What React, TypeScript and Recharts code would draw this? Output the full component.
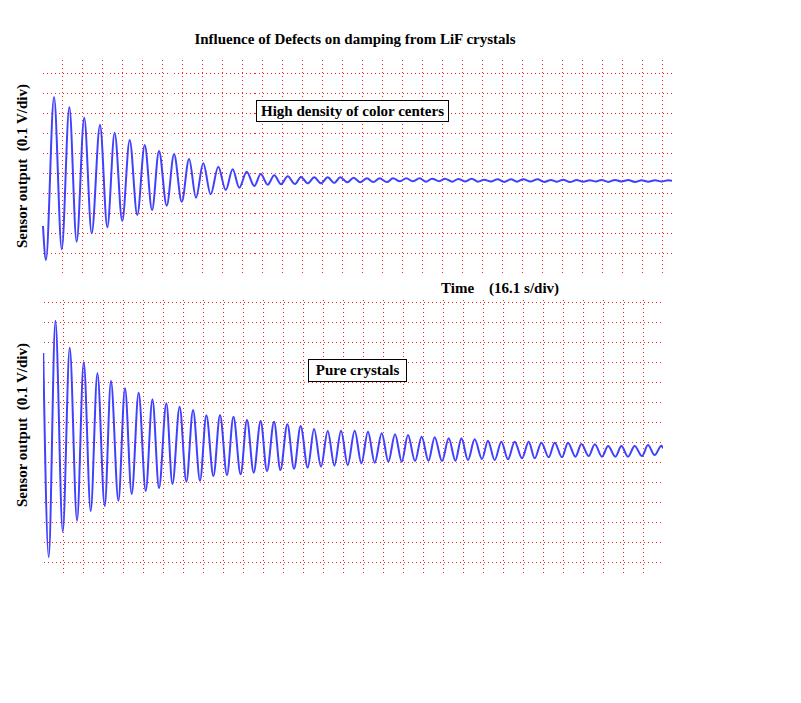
import { LineChart, Line, XAxis, YAxis, ReferenceLine } from "recharts";

// 16.1 s per division, 0.1 V per division
const divSeconds = 16.1;

// top trace: high density of color centers (alternating extremes)
const topTime = [
  0.8, 3.2, 9.7, 15.9, 22.0, 27.9, 34.0, 40.0, 46.7, 52.6, 58.5, 64.6, 70.6, 76.7, 82.7, 88.6,
  94.2, 100.4, 106.3, 112.5, 118.4, 124.0, 129.8, 135.8, 141.9, 147.9, 153.5, 158.8, 164.8, 170.9,
  176.1, 181.7, 187.0, 192.4, 197.8, 203.7, 208.5, 213.9, 219.2, 224.6, 230.0, 235.3, 240.1, 245.8,
  250.9, 256.2, 261.6, 266.7, 271.8, 277.7, 282.6, 288.2, 293.3, 298.4, 304.0, 309.1, 314.0, 319.8,
  324.4, 330.3, 335.1, 340.5, 345.9, 351.0, 356.1, 361.4, 366.8, 372.1, 377.5, 382.4, 387.5, 393.2,
  399.0, 404.3, 409.7, 414.6, 419.6, 425.0, 430.4, 435.7, 441.1, 446.0, 450.5, 455.9, 461.3, 466.7,
  472.0, 477.4, 482.8, 488.1, 493.5, 498.8, 504.2, 507.2,
];
const topVolt = [
  -0.264, -0.434, 0.382, -0.38, 0.33, -0.342, 0.278, -0.3, 0.242, -0.27, 0.203, -0.239, 0.167, -0.209, 0.142, -0.184,
  0.112, -0.162, 0.095, -0.142, 0.072, -0.122, 0.05, -0.105, 0.033, -0.084, 0.02, -0.072, 0.008, -0.064,
  -0.004, -0.057, -0.01, -0.055, -0.015, -0.054, -0.019, -0.05, -0.02, -0.05, -0.02, -0.049, -0.02, -0.045,
  -0.022, -0.045, -0.025, -0.044, -0.025, -0.044, -0.025, -0.04, -0.025, -0.04, -0.025, -0.042, -0.027, -0.04,
  -0.027, -0.042, -0.028, -0.041, -0.027, -0.042, -0.032, -0.041, -0.03, -0.043, -0.03, -0.042, -0.03, -0.041,
  -0.03, -0.043, -0.034, -0.042, -0.032, -0.044, -0.034, -0.042, -0.035, -0.041, -0.033, -0.043, -0.033, -0.041,
  -0.034, -0.043, -0.035, -0.042, -0.035, -0.041, -0.035, -0.038,
];

// bottom trace: pure crystals
const bottomTime = [
  0.2, 4.6, 10.0, 15.9, 21.5, 27.4, 32.8, 38.4, 43.8, 49.7, 54.7, 60.7, 66.0, 71.4, 77.0, 82.7,
  88.1, 93.4, 99.3, 104.2, 110.0, 115.4, 120.8, 126.4, 131.5, 137.2, 142.5, 148.1, 153.3, 159.1,
  164.2, 169.6, 175.2, 180.3, 186.0, 191.1, 196.7, 202.1, 207.4, 213.1, 218.2, 223.8, 229.2, 234.6,
  239.9, 245.3, 250.9, 256.3, 261.6, 267.0, 272.7, 278.0, 283.4, 288.8, 293.8, 299.5, 304.8, 310.3,
  315.3, 321.2, 326.6, 332.0, 336.8, 342.1, 347.5, 353.4, 358.2, 363.6, 369.0, 374.3, 379.7, 385.6,
  391.0, 395.8, 401.2, 407.1, 411.9, 417.8, 422.6, 428.6, 433.4, 439.3, 444.2, 450.0, 454.9, 460.8,
  465.6, 470.9, 476.3, 482.2, 487.0, 492.4, 497.8, 499.1,
];
const bottomVolt = [
  0.347, -0.675, 0.508, -0.547, 0.373, -0.492, 0.3, -0.444, 0.245, -0.419, 0.207, -0.392, 0.17, -0.359, 0.148, -0.344,
  0.115, -0.33, 0.095, -0.309, 0.078, -0.297, 0.062, -0.292, 0.035, -0.269, 0.037, -0.264, 0.028, -0.26,
  0.012, -0.252, 0.007, -0.244, 0.003, -0.239, -0.01, -0.232, -0.019, -0.227, -0.034, -0.222, -0.044, -0.217,
  -0.042, -0.214, -0.042, -0.205, -0.047, -0.202, -0.055, -0.197, -0.06, -0.197, -0.064, -0.194, -0.072, -0.192,
  -0.075, -0.194, -0.08, -0.192, -0.08, -0.189, -0.085, -0.184, -0.092, -0.189, -0.097, -0.185, -0.097, -0.18,
  -0.097, -0.18, -0.102, -0.175, -0.102, -0.175, -0.102, -0.172, -0.109, -0.169, -0.11, -0.172, -0.119, -0.172,
  -0.119, -0.172, -0.119, -0.169, -0.114, -0.164, -0.117, -0.13,
];

const topYTicks = [-0.4, -0.3, -0.2, -0.1, 0, 0.1, 0.2, 0.3, 0.4, 0.5];
const bottomYTicks = [-0.7, -0.6, -0.5, -0.4, -0.3, -0.2, -0.1, 0, 0.1, 0.2, 0.3, 0.4, 0.5, 0.6];
const xDivisions = Array.from({ length: 31 }, (_, i) => i + 1);

const serif = '"Liberation Serif", "Times New Roman", serif';
const gridColor = "#ff2020";

// dotted red grid line, snapped to whole pixels
const GridDots = (props: any) => {
  const { x1, y1, x2, y2 } = props;
  return (
    <line
      x1={Math.round(x1) + 0.5}
      y1={Math.round(y1) + 0.5}
      x2={Math.round(x2) + 0.5}
      y2={Math.round(y2) + 0.5}
      stroke={gridColor}
      strokeWidth={1}
      strokeDasharray="1 3"
      shapeRendering="crispEdges"
    />
  );
};

interface ScopeProps {
  time: number[];
  volt: number[];
  width: number;
  height: number;
  xMax: number;
  yDomain: [number, number];
  yTicks: number[];
  axisColor: string;
}

function Scope({ time, volt, width, height, xMax, yDomain, yTicks, axisColor }: ScopeProps) {
  const rows = time.map((t, i) => ({ t, v: volt[i] }));
  const xTicks = xDivisions.map((d) => +(d * divSeconds).toFixed(1)).filter((t) => t < xMax);
  return (
    <LineChart width={width} height={height} data={rows} margin={{ top: 2, right: 3, bottom: 2, left: 2 }}>
      <XAxis type="number" dataKey="t" domain={[0, xMax]} allowDataOverflow hide />
      <YAxis
        type="number"
        domain={yDomain}
        ticks={yTicks}
        allowDataOverflow
        width={0}
        tick={false}
        tickLine={false}
        axisLine={{ stroke: axisColor, strokeWidth: 1.5 }}
      />
      {yTicks.map((v) => (
        <ReferenceLine key={`h${v}`} y={v} shape={GridDots} />
      ))}
      {xTicks.map((t) => (
        <ReferenceLine key={`v${t}`} x={t} shape={GridDots} />
      ))}
      <Line
        type="monotone"
        dataKey="v"
        stroke="#4040ff"
        strokeWidth={2}
        dot={false}
        isAnimationActive={false}
      />
    </LineChart>
  );
}

const boxLabel: React.CSSProperties = {
  position: "absolute",
  border: "1px solid #000",
  background: "#fff",
  fontFamily: serif,
  fontWeight: "bold",
  fontSize: 15,
  textAlign: "center",
  whiteSpace: "nowrap",
};

const yLabel: React.CSSProperties = {
  position: "absolute",
  width: 200,
  left: 22 - 100,
  textAlign: "center",
  fontFamily: serif,
  fontWeight: "bold",
  fontSize: 15,
  lineHeight: "16px",
  transform: "rotate(-90deg)",
  whiteSpace: "pre",
};

export default function App() {
  return (
    <div style={{ position: "absolute", left: 0, top: 0, width: 801, height: 703, background: "#fff" }}>
      <div
        style={{
          position: "absolute",
          left: 0,
          width: 710,
          top: 31,
          textAlign: "center",
          fontFamily: serif,
          fontWeight: "bold",
          fontSize: 15,
        }}
      >
        Influence of Defects on damping from LiF crystals
      </div>

      <div style={{ position: "absolute", left: 40, top: 55 }}>
        <Scope
          time={topTime}
          volt={topVolt}
          width={635}
          height={219}
          xMax={507.2}
          yDomain={[-0.494, 0.582]}
          yTicks={topYTicks}
          axisColor="#a8a800"
        />
      </div>

      <div style={{ position: "absolute", left: 41.3, top: 297 }}>
        <Scope
          time={bottomTime}
          volt={bottomVolt}
          width={625}
          height={277}
          xMax={499.1}
          yDomain={[-0.749, 0.617]}
          yTicks={bottomYTicks}
          axisColor="#000"
        />
      </div>

      <div style={{ ...boxLabel, left: 256, top: 100, width: 191, height: 20, lineHeight: "20px" }}>
        High density of color centers
      </div>
      <div style={{ ...boxLabel, left: 308, top: 359, width: 97, height: 21, lineHeight: "21px" }}>
        Pure crystals
      </div>

      <div
        style={{
          position: "absolute",
          left: 441,
          top: 280,
          fontFamily: serif,
          fontWeight: "bold",
          fontSize: 15,
          whiteSpace: "pre",
        }}
      >
        {"Time    (16.1 s/div)"}
      </div>

      <div style={{ ...yLabel, top: 166 - 8 }}>{"Sensor output  (0.1 V/div)"}</div>
      <div style={{ ...yLabel, top: 425 - 8 }}>{"Sensor output  (0.1 V/div)"}</div>
    </div>
  );
}
